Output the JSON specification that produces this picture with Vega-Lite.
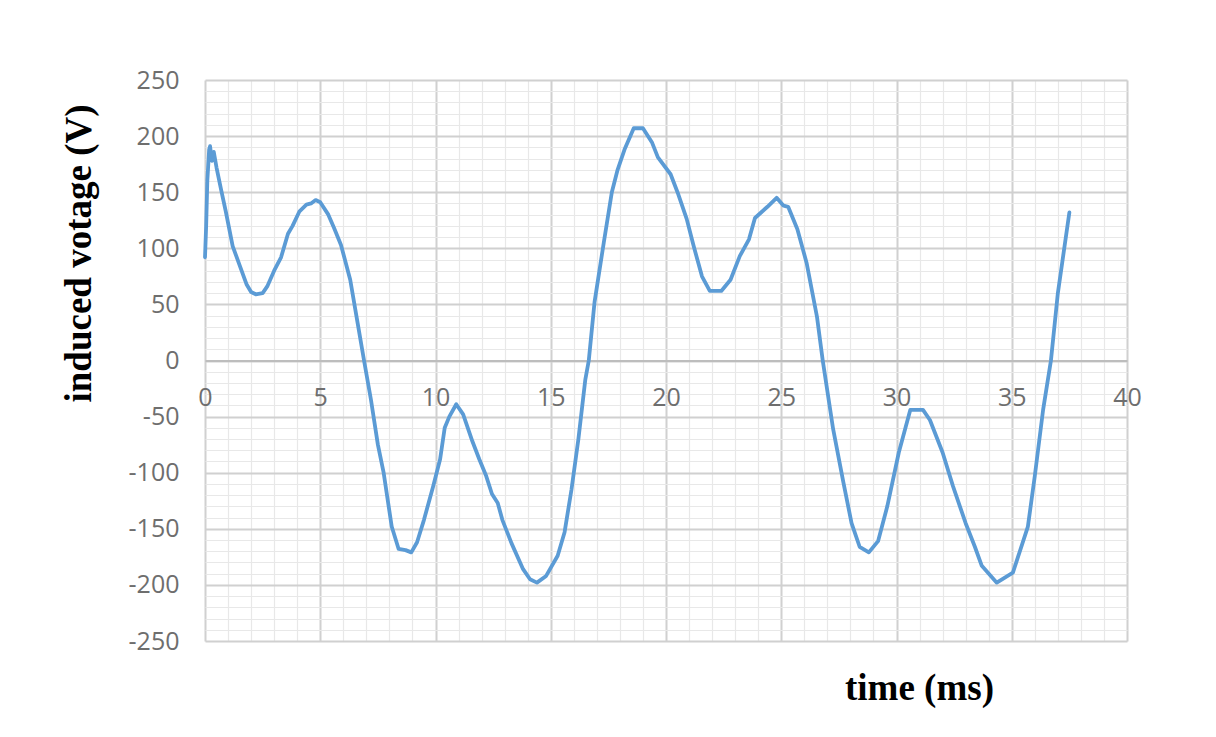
{
  "$schema": "https://vega.github.io/schema/vega-lite/v6.json",
  "width": 922,
  "height": 561,
  "autosize": {"type": "none"},
  "padding": {"left": 205, "top": 80, "right": 89, "bottom": 96},
  "background": "#ffffff",
  "config": {"view": {"stroke": null}},
  "data": {
    "values": [
      {"t": 0.0, "v": 92}, {"t": 0.05, "v": 120}, {"t": 0.1, "v": 160}, {"t": 0.18, "v": 188},
      {"t": 0.22, "v": 191}, {"t": 0.3, "v": 178}, {"t": 0.38, "v": 186}, {"t": 0.5, "v": 172},
      {"t": 0.7, "v": 152}, {"t": 0.9, "v": 133}, {"t": 1.2, "v": 102}, {"t": 1.5, "v": 85},
      {"t": 1.8, "v": 68}, {"t": 2.0, "v": 61}, {"t": 2.2, "v": 59}, {"t": 2.5, "v": 60},
      {"t": 2.7, "v": 66}, {"t": 3.0, "v": 80}, {"t": 3.3, "v": 92}, {"t": 3.6, "v": 113},
      {"t": 3.8, "v": 120}, {"t": 4.1, "v": 133}, {"t": 4.4, "v": 139}, {"t": 4.6, "v": 140},
      {"t": 4.8, "v": 143}, {"t": 5.0, "v": 141}, {"t": 5.35, "v": 130}, {"t": 5.6, "v": 118},
      {"t": 5.9, "v": 103}, {"t": 6.3, "v": 72}, {"t": 6.65, "v": 30}, {"t": 6.9, "v": 0},
      {"t": 7.2, "v": -35}, {"t": 7.5, "v": -75}, {"t": 7.75, "v": -100}, {"t": 8.1, "v": -148},
      {"t": 8.4, "v": -168}, {"t": 8.7, "v": -169}, {"t": 8.95, "v": -171}, {"t": 9.2, "v": -162},
      {"t": 9.5, "v": -142}, {"t": 9.9, "v": -112}, {"t": 10.2, "v": -88}, {"t": 10.4, "v": -60},
      {"t": 10.6, "v": -50}, {"t": 10.9, "v": -39}, {"t": 11.2, "v": -48}, {"t": 11.6, "v": -72},
      {"t": 11.9, "v": -88}, {"t": 12.2, "v": -103}, {"t": 12.45, "v": -119}, {"t": 12.7, "v": -127},
      {"t": 12.9, "v": -142}, {"t": 13.3, "v": -163}, {"t": 13.8, "v": -186}, {"t": 14.1, "v": -195},
      {"t": 14.4, "v": -198}, {"t": 14.8, "v": -192}, {"t": 15.3, "v": -174}, {"t": 15.6, "v": -153},
      {"t": 15.9, "v": -115}, {"t": 16.2, "v": -70}, {"t": 16.5, "v": -17}, {"t": 16.65, "v": 0},
      {"t": 16.9, "v": 52}, {"t": 17.3, "v": 105}, {"t": 17.65, "v": 150}, {"t": 17.9, "v": 170},
      {"t": 18.2, "v": 188}, {"t": 18.6, "v": 207}, {"t": 19.0, "v": 207}, {"t": 19.4, "v": 194},
      {"t": 19.65, "v": 181}, {"t": 20.2, "v": 166}, {"t": 20.5, "v": 150}, {"t": 20.9, "v": 126},
      {"t": 21.2, "v": 102}, {"t": 21.56, "v": 75}, {"t": 21.9, "v": 62}, {"t": 22.4, "v": 62},
      {"t": 22.8, "v": 72}, {"t": 23.2, "v": 93}, {"t": 23.6, "v": 108}, {"t": 23.86, "v": 127},
      {"t": 24.4, "v": 137}, {"t": 24.8, "v": 145}, {"t": 25.1, "v": 138}, {"t": 25.3, "v": 137},
      {"t": 25.7, "v": 117}, {"t": 26.1, "v": 87}, {"t": 26.55, "v": 39}, {"t": 26.8, "v": 0},
      {"t": 27.25, "v": -61}, {"t": 27.7, "v": -109}, {"t": 28.05, "v": -145}, {"t": 28.4, "v": -166},
      {"t": 28.8, "v": -171}, {"t": 29.2, "v": -161}, {"t": 29.6, "v": -130}, {"t": 30.1, "v": -82},
      {"t": 30.6, "v": -44}, {"t": 31.15, "v": -44}, {"t": 31.45, "v": -53}, {"t": 32.0, "v": -82},
      {"t": 32.45, "v": -112}, {"t": 33.0, "v": -145}, {"t": 33.4, "v": -166}, {"t": 33.7, "v": -183},
      {"t": 34.35, "v": -198}, {"t": 35.05, "v": -189}, {"t": 35.7, "v": -148}, {"t": 36.0, "v": -103},
      {"t": 36.36, "v": -44}, {"t": 36.7, "v": 0}, {"t": 37.0, "v": 60}, {"t": 37.5, "v": 132}
    ]
  },
  "mark": {"type": "line", "color": "#5b9bd5", "strokeWidth": 3.8, "strokeJoin": "round", "strokeCap": "round"},
  "encoding": {
    "x": {
      "field": "t",
      "type": "quantitative",
      "scale": {"domain": [0, 40], "nice": false, "zero": false},
      "axis": {
        "values": [0,1,2,3,4,5,6,7,8,9,10,11,12,13,14,15,16,17,18,19,20,21,22,23,24,25,26,27,28,29,30,31,32,33,34,35,36,37,38,39,40],
        "offset": -280.5,
        "labelExpr": "datum.value % 5 === 0 ? '' + datum.value : ''",
        "labelFont": "Open Sans",
        "labelFontSize": 25,
        "labelColor": "#6e6e6e",
        "labelPadding": 25,
        "labelFlush": false,
        "labelOverlap": false,
        "ticks": false,
        "domainColor": "#bdbdbd",
        "domainWidth": 2,
        "grid": true,
        "gridColor": {"condition": {"test": "datum.value % 5 === 0", "value": "#d0d0d0"}, "value": "#e8e8e8"},
        "gridWidth": {"condition": {"test": "datum.value % 5 === 0", "value": 2}, "value": 1.2},
        "title": "time (ms)",
        "titleFont": "Liberation Serif",
        "titleFontWeight": "bold",
        "titleFontSize": 37,
        "titleColor": "#000000",
        "titleX": 714,
        "titleY": 339,
        "titleAlign": "center",
        "titleBaseline": "alphabetic"
      }
    },
    "y": {
      "field": "v",
      "type": "quantitative",
      "scale": {"domain": [-250, 250], "nice": false},
      "axis": {
        "values": [-250,-240,-230,-220,-210,-200,-190,-180,-170,-160,-150,-140,-130,-120,-110,-100,-90,-80,-70,-60,-50,-40,-30,-20,-10,0,10,20,30,40,50,60,70,80,90,100,110,120,130,140,150,160,170,180,190,200,210,220,230,240,250],
        "labelExpr": "datum.value % 50 === 0 ? '' + datum.value : ''",
        "labelFont": "Open Sans",
        "labelFontSize": 25,
        "labelColor": "#6e6e6e",
        "labelPadding": 26,
        "labelOverlap": false,
        "labelFlush": false,
        "ticks": false,
        "domain": false,
        "grid": true,
        "gridColor": {"condition": {"test": "datum.value % 50 === 0", "value": "#d0d0d0"}, "value": "#e8e8e8"},
        "gridWidth": {"condition": {"test": "datum.value % 50 === 0", "value": 2}, "value": 1.2},
        "title": "induced votage (V)",
        "titleFont": "Liberation Serif",
        "titleFontWeight": "bold",
        "titleFontSize": 37,
        "titleColor": "#000000",
        "titleAngle": -90,
        "titleX": -115,
        "titleY": 173,
        "titleAlign": "center",
        "titleBaseline": "alphabetic"
      }
    }
  }
}
